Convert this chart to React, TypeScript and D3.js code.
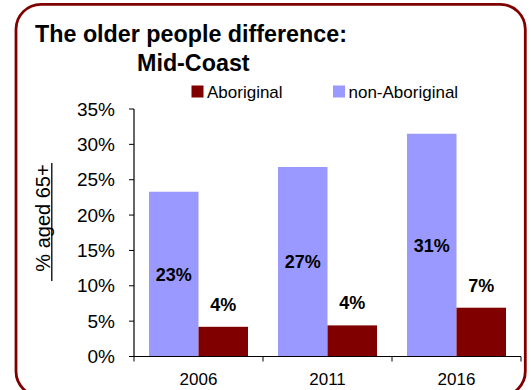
import React from "react";
import * as d3 from "d3";

const categories = ["2006", "2011", "2016"];
const seriesNames = ["non-Aboriginal", "Aboriginal"];
const nonAboriginal = [23.3, 26.8, 31.5];
const aboriginal = [4.2, 4.4, 6.9];
const nonAboriginalLabels = ["23%", "27%", "31%"];
const aboriginalLabels = ["4%", "4%", "7%"];
const yTicks = [0, 5, 10, 15, 20, 25, 30, 35];
const legendItems = ["Aboriginal", "non-Aboriginal"];

const W = 531;
const H = 390;
const FONT = "'Liberation Sans', Arial, Helvetica, sans-serif";
const colors: Record<string, string> = {
  "Aboriginal": "#800000",
  "non-Aboriginal": "#9999FF",
};

export default function App() {
  const plotLeft = 134;
  const plotRight = 521;
  const plotTop = 109;
  const plotBottom = 356.5;

  const x0 = d3.scaleBand<string>().domain(categories).range([plotLeft, plotRight]).padding(0);
  const x1 = d3
    .scaleBand<string>()
    .domain(seriesNames)
    .range([15, x0.bandwidth() - 15])
    .padding(0);
  const y = d3.scaleLinear().domain([0, 35]).range([plotBottom, plotTop]);

  const data = categories.map((c, i) => ({
    cat: c,
    vals: [
      { s: "non-Aboriginal", v: nonAboriginal[i], label: nonAboriginalLabels[i] },
      { s: "Aboriginal", v: aboriginal[i], label: aboriginalLabels[i] },
    ],
  }));

  const boundaries = [...categories.map((c) => x0(c) as number), plotRight];

  return (
    <svg
      width={W}
      height={H}
      style={{ position: "absolute", left: 0, top: 0, background: "#fff" }}
      fontFamily={FONT}
    >
      <rect x={0} y={0} width={W} height={H} fill="#fff" />
      {/* border */}
      <rect
        x={16}
        y={4.3}
        width={509.3}
        height={392}
        rx={25}
        ry={25}
        fill="none"
        stroke="#800000"
        strokeWidth={2.8}
      />
      {/* title */}
      <text x={35} y={41.5} fontSize={23.3} fontWeight="bold" fill="#000">
        The older people difference:
      </text>
      <text x={137} y={70.6} fontSize={23.3} fontWeight="bold" fill="#000">
        Mid-Coast
      </text>
      {/* legend */}
      {legendItems.map((name, i) => {
        const lx = i === 0 ? 191.5 : 333;
        return (
          <g key={name}>
            <rect x={lx} y={85.5} width={12} height={12} fill={colors[name]} />
            <text x={lx + 15.5} y={97.7} fontSize={17} fill="#000">
              {name}
            </text>
          </g>
        );
      })}
      {/* y-axis title */}
      <g transform="translate(49.5,218) rotate(-90)">
        <text x={0} y={0} fontSize={20} textAnchor="middle" fill="#000">
          % aged 65+
        </text>
      </g>
      <line x1={51.8} x2={51.8} y1={163} y2={281} stroke="#000" strokeWidth={1.3} />
      {/* bars */}
      {data.map((d) =>
        d.vals.map((b) => {
          const bx = (x0(d.cat) as number) + (x1(b.s) as number);
          const bw = x1.bandwidth();
          return (
            <rect
              key={d.cat + b.s}
              x={bx}
              y={y(b.v)}
              width={bw}
              height={plotBottom - y(b.v)}
              fill={colors[b.s]}
            />
          );
        })
      )}
      {/* bar labels */}
      {data.map((d) =>
        d.vals.map((b) => {
          const cx = (x0(d.cat) as number) + (x1(b.s) as number) + x1.bandwidth() / 2;
          const ly =
            b.s === "non-Aboriginal" ? (y(b.v) + plotBottom) / 2 + 6.4 : y(b.v) - 16;
          return (
            <text
              key={"l" + d.cat + b.s}
              x={cx}
              y={ly}
              fontSize={18}
              fontWeight="bold"
              textAnchor="middle"
              fill="#000"
            >
              {b.label}
            </text>
          );
        })
      )}
      {/* y axis */}
      <line x1={plotLeft} x2={plotLeft} y1={y(35)} y2={plotBottom} stroke="#000" strokeWidth={1.2} />
      {yTicks.map((t) => (
        <g key={t}>
          <line x1={plotLeft - 5} x2={plotLeft} y1={y(t)} y2={y(t)} stroke="#000" strokeWidth={1} />
          <text x={115} y={y(t) + 6.7} fontSize={19} textAnchor="end" fill="#000">
            {t}%
          </text>
        </g>
      ))}
      {/* x axis */}
      <line x1={plotLeft} x2={plotRight} y1={plotBottom} y2={plotBottom} stroke="#000" strokeWidth={1.2} />
      {boundaries.map((bx, i) => (
        <line key={i} x1={bx} x2={bx} y1={plotBottom} y2={plotBottom + 5} stroke="#000" strokeWidth={1} />
      ))}
      {categories.map((c) => (
        <text
          key={c}
          x={(x0(c) as number) + x0.bandwidth() / 2}
          y={385}
          fontSize={17}
          textAnchor="middle"
          fill="#000"
        >
          {c}
        </text>
      ))}
    </svg>
  );
}
